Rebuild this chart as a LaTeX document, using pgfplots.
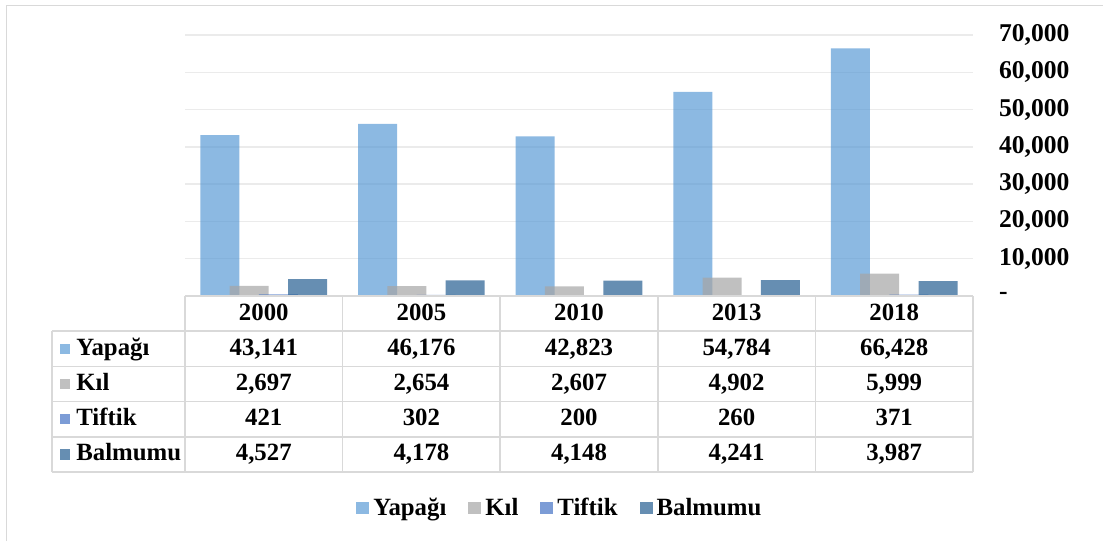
\documentclass[border=0pt]{standalone}
\usepackage{fontspec}
\setmainfont{Liberation Serif}
\usepackage{pgfplots}
\usepackage{pgfplotstable}
\pgfplotsset{compat=1.18}

\definecolor{yapagi}{HTML}{5B9BD5}
\definecolor{kil}{HTML}{A5A5A5}
\definecolor{tiftik}{HTML}{4472C4}
\definecolor{balmumu}{HTML}{255E91}
\definecolor{gridgray}{HTML}{EBEBEB}
\definecolor{linegray}{HTML}{D9D9D9}

\newcommand\tabfont{\fontsize{12.4}{14}\selectfont\bfseries}
\newcommand\tickfont{\fontsize{12.8}{14}\selectfont\bfseries}

\pgfplotstableread{
x year yapagi kil tiftik balmumu
0 2000 43141 2697 421 4527
1 2005 46176 2654 302 4178
2 2010 42823 2607 200 4148
3 2013 54784 4902 260 4241
4 2018 66428 5999 371 3987
}\data

\begin{document}
\begin{tikzpicture}
\useasboundingbox (-92.5pt,-122.5pt) rectangle (459pt,148pt);
% light frame, top and left only
\draw[linegray, line width=0.8pt] (-89.25pt,-122.5pt) -- (-89.25pt,145.25pt) -- (459pt,145.25pt);

\begin{axis}[
    at={(0pt,0pt)}, anchor=south west,
    scale only axis,
    width=394pt, height=130.5pt,
    xmin=-0.5, xmax=4.5,
    ymin=0, ymax=70000,
    axis line style={draw=none},
    xtick=\empty,
    ytick={0,10000,...,70000},
    scaled y ticks=false,
    yticklabels={{-},{10,000},{20,000},{30,000},{40,000},{50,000},{60,000},{70,000}},
    yticklabel pos=right,
    major tick length=0pt,
    yticklabel style={font=\tickfont, anchor=west, xshift=9.5pt},
    ymajorgrids,
    grid style={gridgray, line width=0.75pt},
    legend columns=4,
    legend style={draw=none, fill=none, font=\tabfont,
        at={(0.477,-0.812)}, anchor=center,
        /tikz/every even column/.append style={column sep=9pt}},
    legend image code/.code={\fill (0pt,-3.2pt) rectangle (6.5pt,3.2pt);},
    every axis plot/.append style={ybar, bar width=19.5pt, draw=none, fill opacity=0.7},
]
\addplot[fill=yapagi, bar shift=-21.9pt] table[x=x, y=yapagi] {\data};
\addlegendentry{Yapağı}
\addplot[fill=kil, bar shift=-7.3pt] table[x=x, y=kil] {\data};
\addlegendentry{Kıl}
\addplot[fill=tiftik, bar shift=7.3pt] table[x=x, y=tiftik] {\data};
\addlegendentry{Tiftik}
\addplot[fill=balmumu, bar shift=21.9pt] table[x=x, y=balmumu] {\data};
\addlegendentry{Balmumu}
\end{axis}

% data table under the bars
\begin{scope}[linegray, line width=0.8pt]
  \draw (0pt,0pt) -- (394pt,0pt);
  \foreach \y in {17.6,35.2,52.8,70.4,88}
    \draw (-66.5pt,-\y pt) -- (394pt,-\y pt);
  \draw (-66.5pt,-17.6pt) -- (-66.5pt,-88pt);
  \foreach \i in {0,...,5}
    \draw ({78.8pt*\i},0pt) -- ({78.8pt*\i},-88pt);
\end{scope}

\tikzset{cell/.style={font=\tabfont, inner sep=0pt, text height=9pt, text depth=2.6pt}}

\foreach \i in {0,...,4} {
  \pgfplotstablegetelem{\i}{year}\of\data
  \node[cell] at ({39.4pt+78.8pt*\i},-8.8pt) {\pgfplotsretval};
}

\pgfkeys{/pgf/number format/assume math mode=true}
\foreach \col/\name/\clr [count=\r] in {yapagi/Yapağı/yapagi, kil/Kıl/kil, tiftik/Tiftik/tiftik, balmumu/Balmumu/balmumu} {
  \fill[\clr, fill opacity=0.7] (-62.5pt,{-8.8pt-17.6pt*\r-2.6pt}) rectangle (-57.3pt,{-8.8pt-17.6pt*\r+2.6pt});
  \node[cell, anchor=west] at (-54.5pt,{-8.8pt-17.6pt*\r}) {\name};
  \foreach \i in {0,...,4} {
    \pgfplotstablegetelem{\i}{\col}\of\data
    \node[cell] at ({39.4pt+78.8pt*\i},{-8.8pt-17.6pt*\r})
      {\pgfmathprintnumber[fixed, precision=0, 1000 sep={,}]{\pgfplotsretval}};
  }
}
\end{tikzpicture}
\end{document}
